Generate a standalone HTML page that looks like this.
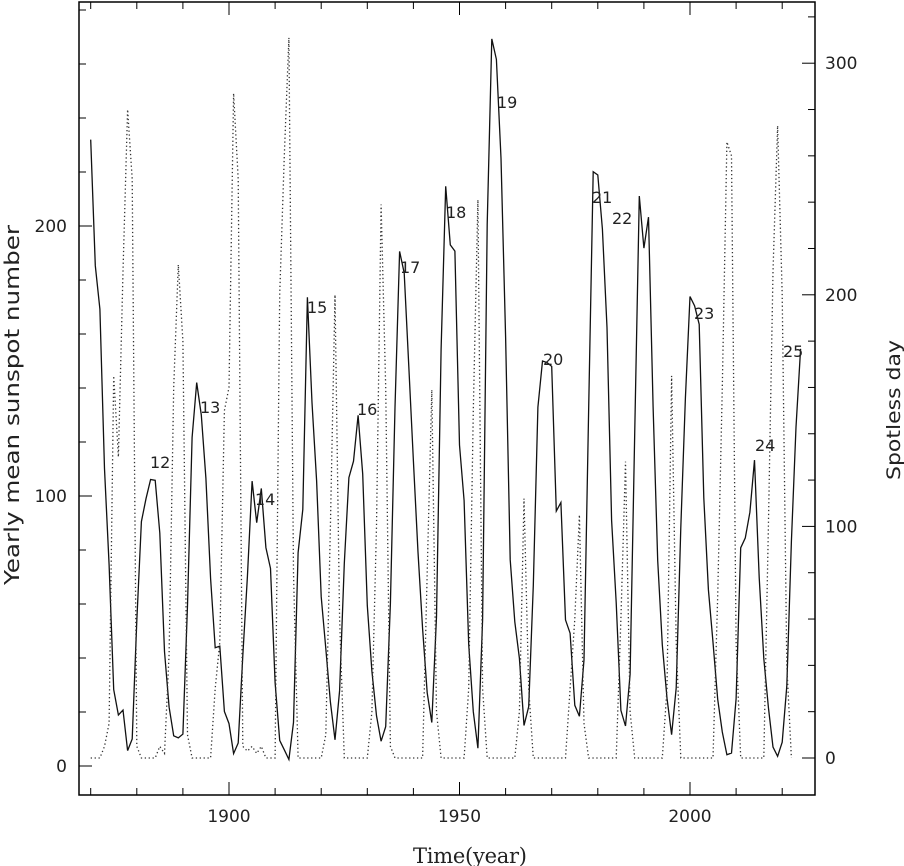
<!DOCTYPE html>
<html><head><meta charset="utf-8"><style>
html,body{margin:0;padding:0;background:#fff;}
svg{display:block;}
text{font-family:"DejaVu Sans","Liberation Sans",sans-serif;fill:#222;}
</style></head><body>
<svg id="s" width="904" height="866" xmlns="http://www.w3.org/2000/svg"></svg>
<script>
const ssn=[232.0,185.3,169.2,110.1,74.5,28.3,18.9,20.7,5.7,10.0,53.7,90.5,99.0,106.1,105.8,86.3,42.4,21.8,11.2,10.4,11.8,59.5,121.7,142.0,130.0,106.6,69.4,43.8,44.4,20.2,15.7,4.6,8.5,40.8,70.1,105.5,90.1,102.8,80.9,73.2,30.9,9.5,6.0,2.4,16.1,79.0,95.0,173.6,134.6,105.7,62.7,43.5,23.7,9.7,27.9,75.0,106.8,112.9,129.9,108.2,59.4,35.1,18.6,9.2,14.6,60.2,132.8,190.6,182.6,148.0,113.0,79.2,50.8,27.1,16.1,55.3,154.3,214.7,193.0,190.7,118.9,98.3,45.0,20.1,6.6,54.2,200.7,269.3,261.7,225.1,159.0,76.4,53.4,39.9,15.0,22.0,66.8,132.9,150.0,149.4,148.0,94.4,97.6,54.1,49.2,22.5,18.4,39.3,131.0,220.1,218.9,198.9,162.4,91.0,60.5,20.6,14.8,33.9,123.0,211.1,191.8,203.3,133.0,76.1,44.9,25.1,11.6,28.9,88.3,136.3,173.9,170.4,163.6,99.3,65.3,45.8,24.7,12.6,4.2,4.8,24.9,80.8,84.5,94.0,113.3,69.8,39.8,21.7,7.0,3.6,8.8,29.6,83.2,125.5,154.5];
const sp={1873:5,1874:15,1875:165,1876:130,1877:210,1878:280,1879:250,1880:5,1885:5,1886:2,1887:45,1888:160,1889:213,1890:180,1891:10,1897:30,1898:50,1899:150,1900:160,1901:287,1902:250,1903:5,1904:3,1905:5,1906:2,1907:5,1911:200,1912:260,1913:311,1914:80,1921:10,1922:100,1923:200,1924:60,1931:20,1932:100,1933:239,1934:160,1935:5,1943:80,1944:159,1945:20,1952:30,1953:150,1954:241,1955:30,1963:20,1964:112,1965:30,1974:30,1975:60,1976:105,1977:15,1985:60,1986:128,1987:20,1995:30,1996:165,1997:50,2006:70,2007:160,2008:266,2009:260,2010:50,2017:100,2018:210,2019:273,2020:200,2021:40};
const X=y=>229+(y-1900)*4.61, YL=v=>766-v*2.7, YR=v=>758-v*2.316;
let h='';
const L=79,R=815,T=2,B=795;
h+=`<rect x="${L}" y="${T}" width="${R-L}" height="${B-T}" fill="none" stroke="#000" stroke-width="1.5"/>`;
for(let y=1870;y<=2020;y+=10){const x=X(y),m=y%50==0?13:7;h+=`<line x1="${x}" y1="${B}" x2="${x}" y2="${B-m}" stroke="#000"/><line x1="${x}" y1="${T}" x2="${x}" y2="${T+m}" stroke="#000"/>`;if(m==13)h+=`<text x="${x}" y="822" font-size="17" text-anchor="middle">${y}</text>`;}
for(let v=0;v<=280;v+=20){const y=YL(v),m=v%100==0?13:7;h+=`<line x1="${L}" y1="${y}" x2="${L+m}" y2="${y}" stroke="#000"/>`;if(m==13)h+=`<text x="67" y="${y+6}" font-size="17" text-anchor="end">${v}</text>`;}
for(let v=-20;v<=320;v+=20){const y=YR(v);if(y<T||y>B)continue;const m=v%100==0?13:7;h+=`<line x1="${R}" y1="${y}" x2="${R-m}" y2="${y}" stroke="#000"/>`;if(m==13)h+=`<text x="825" y="${y+6}" font-size="17">${v}</text>`;}
let p=[];ssn.forEach((v,i)=>p.push(X(1870+i).toFixed(1)+','+YL(v).toFixed(1)));
h+=`<polyline points="${p.join(' ')}" fill="none" stroke="#111" stroke-width="1.3"/>`;
let q=[];for(let y=1870;y<=2022;y++)q.push(X(y).toFixed(1)+','+YR(sp[y]||0).toFixed(1));
h+=`<polyline points="${q.join(' ')}" fill="none" stroke="#333" stroke-width="1.3" stroke-dasharray="1.3,2.6"/>`;
[[12,150,468],[13,200,413],[14,255,505],[15,307,313],[16,357,415],[17,400,273],[18,446,218],[19,497,108],[20,543,365],[21,592,203],[22,612,224],[23,694,319],[24,755,451],[25,783,357]].forEach(a=>h+=`<text x="${a[1]}" y="${a[2]}" font-size="16">${a[0]}</text>`);
h+=`<text x="470" y="863" font-size="21" text-anchor="middle" style="font-family:'DejaVu Serif','Liberation Serif',serif" textLength="114">Time(year)</text>`;
h+=`<text transform="translate(19,405) rotate(-90)" font-size="20" text-anchor="middle" textLength="360" lengthAdjust="spacingAndGlyphs">Yearly mean sunspot number</text>`;
h+=`<text transform="translate(900,410) rotate(-90)" font-size="19" text-anchor="middle" textLength="140" lengthAdjust="spacingAndGlyphs">Spotless day</text>`;
document.getElementById('s').innerHTML=h;
</script>
</body></html>
